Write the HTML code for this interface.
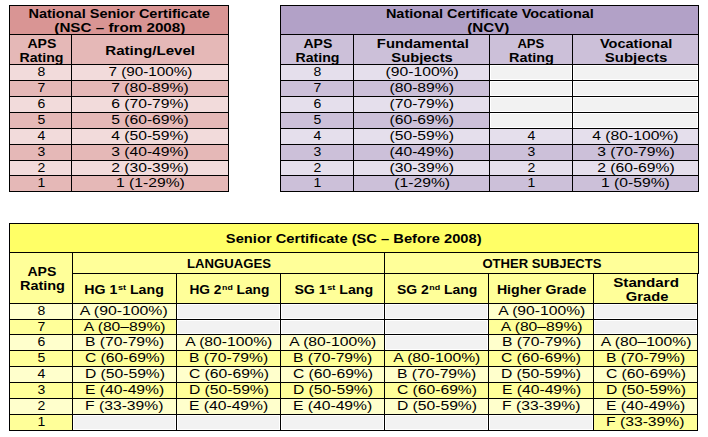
<!DOCTYPE html>
<html><head><meta charset="utf-8"><style>
html,body{margin:0;padding:0;background:#fff;width:708px;height:437px;overflow:hidden;position:relative}
.c{position:absolute;box-sizing:border-box;border:1px solid #000}
.g{position:absolute;background:#F2F2F2}
.t{position:absolute;width:400px;text-align:center;white-space:nowrap;font-family:"Liberation Sans",sans-serif;font-size:12.5px;line-height:20px;color:#000}
.t span{display:inline-block;transform-origin:50% 50%}
.b{font-weight:bold}
.sp{font-size:8px;position:relative;top:-4px;margin-left:0.5px}
</style></head><body>
<div class="c" style="left:9px;top:5px;width:220px;height:30px;background:#D99594"></div>
<div class="c" style="left:9px;top:34px;width:63px;height:31px;background:#E5B8B7"></div>
<div class="c" style="left:71px;top:34px;width:158px;height:31px;background:#E5B8B7"></div>
<div class="c" style="left:9px;top:64px;width:63px;height:17px;background:#F2DBDB"></div>
<div class="c" style="left:71px;top:64px;width:158px;height:17px;background:#F2DBDB"></div>
<div class="c" style="left:9px;top:80px;width:63px;height:17px;background:#E5B8B7"></div>
<div class="c" style="left:71px;top:80px;width:158px;height:17px;background:#E5B8B7"></div>
<div class="c" style="left:9px;top:96px;width:63px;height:17px;background:#F2DBDB"></div>
<div class="c" style="left:71px;top:96px;width:158px;height:17px;background:#F2DBDB"></div>
<div class="c" style="left:9px;top:112px;width:63px;height:17px;background:#E5B8B7"></div>
<div class="c" style="left:71px;top:112px;width:158px;height:17px;background:#E5B8B7"></div>
<div class="c" style="left:9px;top:128px;width:63px;height:17px;background:#F2DBDB"></div>
<div class="c" style="left:71px;top:128px;width:158px;height:17px;background:#F2DBDB"></div>
<div class="c" style="left:9px;top:144px;width:63px;height:17px;background:#E5B8B7"></div>
<div class="c" style="left:71px;top:144px;width:158px;height:17px;background:#E5B8B7"></div>
<div class="c" style="left:9px;top:160px;width:63px;height:16px;background:#F2DBDB"></div>
<div class="c" style="left:71px;top:160px;width:158px;height:16px;background:#F2DBDB"></div>
<div class="c" style="left:9px;top:175px;width:63px;height:17px;background:#E5B8B7"></div>
<div class="c" style="left:71px;top:175px;width:158px;height:17px;background:#E5B8B7"></div>
<div class="c" style="left:280px;top:5px;width:419px;height:30px;background:#B2A1C7"></div>
<div class="c" style="left:280px;top:34px;width:74px;height:31px;background:#CCC0D9"></div>
<div class="c" style="left:353px;top:34px;width:137px;height:31px;background:#CCC0D9"></div>
<div class="c" style="left:489px;top:34px;width:84px;height:31px;background:#CCC0D9"></div>
<div class="c" style="left:572px;top:34px;width:127px;height:31px;background:#CCC0D9"></div>
<div class="c" style="left:280px;top:64px;width:74px;height:17px;background:#E5DFEC"></div>
<div class="c" style="left:353px;top:64px;width:137px;height:17px;background:#E5DFEC"></div>
<div class="c" style="left:489px;top:64px;width:84px;height:17px;background:#FFFFFF"></div>
<div class="g" style="left:491px;top:66px;width:80px;height:13px"></div>
<div class="c" style="left:572px;top:64px;width:127px;height:17px;background:#FFFFFF"></div>
<div class="g" style="left:574px;top:66px;width:123px;height:13px"></div>
<div class="c" style="left:280px;top:80px;width:74px;height:17px;background:#CCC0D9"></div>
<div class="c" style="left:353px;top:80px;width:137px;height:17px;background:#CCC0D9"></div>
<div class="c" style="left:489px;top:80px;width:84px;height:17px;background:#FFFFFF"></div>
<div class="g" style="left:491px;top:82px;width:80px;height:13px"></div>
<div class="c" style="left:572px;top:80px;width:127px;height:17px;background:#FFFFFF"></div>
<div class="g" style="left:574px;top:82px;width:123px;height:13px"></div>
<div class="c" style="left:280px;top:96px;width:74px;height:17px;background:#E5DFEC"></div>
<div class="c" style="left:353px;top:96px;width:137px;height:17px;background:#E5DFEC"></div>
<div class="c" style="left:489px;top:96px;width:84px;height:17px;background:#FFFFFF"></div>
<div class="g" style="left:491px;top:98px;width:80px;height:13px"></div>
<div class="c" style="left:572px;top:96px;width:127px;height:17px;background:#FFFFFF"></div>
<div class="g" style="left:574px;top:98px;width:123px;height:13px"></div>
<div class="c" style="left:280px;top:112px;width:74px;height:17px;background:#CCC0D9"></div>
<div class="c" style="left:353px;top:112px;width:137px;height:17px;background:#CCC0D9"></div>
<div class="c" style="left:489px;top:112px;width:84px;height:17px;background:#FFFFFF"></div>
<div class="g" style="left:491px;top:114px;width:80px;height:13px"></div>
<div class="c" style="left:572px;top:112px;width:127px;height:17px;background:#FFFFFF"></div>
<div class="g" style="left:574px;top:114px;width:123px;height:13px"></div>
<div class="c" style="left:280px;top:128px;width:74px;height:17px;background:#E5DFEC"></div>
<div class="c" style="left:353px;top:128px;width:137px;height:17px;background:#E5DFEC"></div>
<div class="c" style="left:489px;top:128px;width:84px;height:17px;background:#E5DFEC"></div>
<div class="c" style="left:572px;top:128px;width:127px;height:17px;background:#E5DFEC"></div>
<div class="c" style="left:280px;top:144px;width:74px;height:17px;background:#CCC0D9"></div>
<div class="c" style="left:353px;top:144px;width:137px;height:17px;background:#CCC0D9"></div>
<div class="c" style="left:489px;top:144px;width:84px;height:17px;background:#CCC0D9"></div>
<div class="c" style="left:572px;top:144px;width:127px;height:17px;background:#CCC0D9"></div>
<div class="c" style="left:280px;top:160px;width:74px;height:16px;background:#E5DFEC"></div>
<div class="c" style="left:353px;top:160px;width:137px;height:16px;background:#E5DFEC"></div>
<div class="c" style="left:489px;top:160px;width:84px;height:16px;background:#E5DFEC"></div>
<div class="c" style="left:572px;top:160px;width:127px;height:16px;background:#E5DFEC"></div>
<div class="c" style="left:280px;top:175px;width:74px;height:17px;background:#CCC0D9"></div>
<div class="c" style="left:353px;top:175px;width:137px;height:17px;background:#CCC0D9"></div>
<div class="c" style="left:489px;top:175px;width:84px;height:17px;background:#CCC0D9"></div>
<div class="c" style="left:572px;top:175px;width:127px;height:17px;background:#CCC0D9"></div>
<div class="c" style="left:9px;top:223px;width:690px;height:30px;background:#FFFF66"></div>
<div class="c" style="left:9px;top:252px;width:64px;height:52px;background:#FFFF99"></div>
<div class="c" style="left:72px;top:252px;width:313px;height:22px;background:#FFFF99"></div>
<div class="c" style="left:384px;top:252px;width:315px;height:22px;background:#FFFF99"></div>
<div class="c" style="left:72px;top:273px;width:105px;height:31px;background:#FFFF99"></div>
<div class="c" style="left:176px;top:273px;width:105px;height:31px;background:#FFFF99"></div>
<div class="c" style="left:280px;top:273px;width:105px;height:31px;background:#FFFF99"></div>
<div class="c" style="left:384px;top:273px;width:105px;height:31px;background:#FFFF99"></div>
<div class="c" style="left:488px;top:273px;width:106px;height:31px;background:#FFFF99"></div>
<div class="c" style="left:593px;top:273px;width:105px;height:31px;background:#FFFF99"></div>
<div class="c" style="left:9px;top:303px;width:64px;height:17px;background:#FFFFCC"></div>
<div class="c" style="left:72px;top:303px;width:105px;height:17px;background:#FFFFCC"></div>
<div class="c" style="left:176px;top:303px;width:105px;height:17px;background:#FFFFFF"></div>
<div class="g" style="left:178px;top:305px;width:101px;height:13px"></div>
<div class="c" style="left:280px;top:303px;width:105px;height:17px;background:#FFFFFF"></div>
<div class="g" style="left:282px;top:305px;width:101px;height:13px"></div>
<div class="c" style="left:384px;top:303px;width:105px;height:17px;background:#FFFFFF"></div>
<div class="g" style="left:386px;top:305px;width:101px;height:13px"></div>
<div class="c" style="left:488px;top:303px;width:106px;height:17px;background:#FFFFCC"></div>
<div class="c" style="left:593px;top:303px;width:105px;height:17px;background:#FFFFFF"></div>
<div class="g" style="left:595px;top:305px;width:101px;height:13px"></div>
<div class="c" style="left:9px;top:319px;width:64px;height:16px;background:#FFFF99"></div>
<div class="c" style="left:72px;top:319px;width:105px;height:16px;background:#FFFF99"></div>
<div class="c" style="left:176px;top:319px;width:105px;height:16px;background:#FFFFFF"></div>
<div class="g" style="left:178px;top:321px;width:101px;height:12px"></div>
<div class="c" style="left:280px;top:319px;width:105px;height:16px;background:#FFFFFF"></div>
<div class="g" style="left:282px;top:321px;width:101px;height:12px"></div>
<div class="c" style="left:384px;top:319px;width:105px;height:16px;background:#FFFFFF"></div>
<div class="g" style="left:386px;top:321px;width:101px;height:12px"></div>
<div class="c" style="left:488px;top:319px;width:106px;height:16px;background:#FFFF99"></div>
<div class="c" style="left:593px;top:319px;width:105px;height:16px;background:#FFFFFF"></div>
<div class="g" style="left:595px;top:321px;width:101px;height:12px"></div>
<div class="c" style="left:9px;top:334px;width:64px;height:17px;background:#FFFFCC"></div>
<div class="c" style="left:72px;top:334px;width:105px;height:17px;background:#FFFFCC"></div>
<div class="c" style="left:176px;top:334px;width:105px;height:17px;background:#FFFFCC"></div>
<div class="c" style="left:280px;top:334px;width:105px;height:17px;background:#FFFFCC"></div>
<div class="c" style="left:384px;top:334px;width:105px;height:17px;background:#FFFFFF"></div>
<div class="g" style="left:386px;top:336px;width:101px;height:13px"></div>
<div class="c" style="left:488px;top:334px;width:106px;height:17px;background:#FFFFCC"></div>
<div class="c" style="left:593px;top:334px;width:105px;height:17px;background:#FFFFCC"></div>
<div class="c" style="left:9px;top:350px;width:64px;height:17px;background:#FFFF99"></div>
<div class="c" style="left:72px;top:350px;width:105px;height:17px;background:#FFFF99"></div>
<div class="c" style="left:176px;top:350px;width:105px;height:17px;background:#FFFF99"></div>
<div class="c" style="left:280px;top:350px;width:105px;height:17px;background:#FFFF99"></div>
<div class="c" style="left:384px;top:350px;width:105px;height:17px;background:#FFFF99"></div>
<div class="c" style="left:488px;top:350px;width:106px;height:17px;background:#FFFF99"></div>
<div class="c" style="left:593px;top:350px;width:105px;height:17px;background:#FFFF99"></div>
<div class="c" style="left:9px;top:366px;width:64px;height:17px;background:#FFFFCC"></div>
<div class="c" style="left:72px;top:366px;width:105px;height:17px;background:#FFFFCC"></div>
<div class="c" style="left:176px;top:366px;width:105px;height:17px;background:#FFFFCC"></div>
<div class="c" style="left:280px;top:366px;width:105px;height:17px;background:#FFFFCC"></div>
<div class="c" style="left:384px;top:366px;width:105px;height:17px;background:#FFFFCC"></div>
<div class="c" style="left:488px;top:366px;width:106px;height:17px;background:#FFFFCC"></div>
<div class="c" style="left:593px;top:366px;width:105px;height:17px;background:#FFFFCC"></div>
<div class="c" style="left:9px;top:382px;width:64px;height:17px;background:#FFFF99"></div>
<div class="c" style="left:72px;top:382px;width:105px;height:17px;background:#FFFF99"></div>
<div class="c" style="left:176px;top:382px;width:105px;height:17px;background:#FFFF99"></div>
<div class="c" style="left:280px;top:382px;width:105px;height:17px;background:#FFFF99"></div>
<div class="c" style="left:384px;top:382px;width:105px;height:17px;background:#FFFF99"></div>
<div class="c" style="left:488px;top:382px;width:106px;height:17px;background:#FFFF99"></div>
<div class="c" style="left:593px;top:382px;width:105px;height:17px;background:#FFFF99"></div>
<div class="c" style="left:9px;top:398px;width:64px;height:17px;background:#FFFFCC"></div>
<div class="c" style="left:72px;top:398px;width:105px;height:17px;background:#FFFFCC"></div>
<div class="c" style="left:176px;top:398px;width:105px;height:17px;background:#FFFFCC"></div>
<div class="c" style="left:280px;top:398px;width:105px;height:17px;background:#FFFFCC"></div>
<div class="c" style="left:384px;top:398px;width:105px;height:17px;background:#FFFFCC"></div>
<div class="c" style="left:488px;top:398px;width:106px;height:17px;background:#FFFFCC"></div>
<div class="c" style="left:593px;top:398px;width:105px;height:17px;background:#FFFFCC"></div>
<div class="c" style="left:9px;top:414px;width:64px;height:17px;background:#FFFF99"></div>
<div class="c" style="left:72px;top:414px;width:105px;height:17px;background:#FFFFFF"></div>
<div class="g" style="left:74px;top:416px;width:101px;height:13px"></div>
<div class="c" style="left:176px;top:414px;width:105px;height:17px;background:#FFFFFF"></div>
<div class="g" style="left:178px;top:416px;width:101px;height:13px"></div>
<div class="c" style="left:280px;top:414px;width:105px;height:17px;background:#FFFFFF"></div>
<div class="g" style="left:282px;top:416px;width:101px;height:13px"></div>
<div class="c" style="left:384px;top:414px;width:105px;height:17px;background:#FFFFFF"></div>
<div class="g" style="left:386px;top:416px;width:101px;height:13px"></div>
<div class="c" style="left:488px;top:414px;width:106px;height:17px;background:#FFFFFF"></div>
<div class="g" style="left:490px;top:416px;width:102px;height:13px"></div>
<div class="c" style="left:593px;top:414px;width:105px;height:17px;background:#FFFF99"></div>
<div class="t b" style="left:-80.58px;top:4px"><span style="transform:scaleX(1.161)">National Senior Certificate</span></div>
<div class="t b" style="left:-80.50px;top:18px"><span style="transform:scaleX(1.217)">(NSC – from 2008)</span></div>
<div class="t b" style="left:-158.50px;top:34px"><span style="transform:scaleX(1.125)">APS</span></div>
<div class="t b" style="left:-158.50px;top:48px"><span style="transform:scaleX(1.132)">Rating</span></div>
<div class="t b" style="left:-49.50px;top:41px"><span style="transform:scaleX(1.208)">Rating/Level</span></div>
<div class="t" style="left:-158.75px;top:62px"><span style="transform:scaleX(1.120)">8</span></div>
<div class="t" style="left:-49.50px;top:62px"><span style="transform:scaleX(1.221)">7 (90-100%)</span></div>
<div class="t" style="left:-158.75px;top:78px"><span style="transform:scaleX(1.120)">7</span></div>
<div class="t" style="left:-49.75px;top:78px"><span style="transform:scaleX(1.253)">7 (80-89%)</span></div>
<div class="t" style="left:-158.75px;top:94px"><span style="transform:scaleX(1.120)">6</span></div>
<div class="t" style="left:-49.75px;top:94px"><span style="transform:scaleX(1.253)">6 (70-79%)</span></div>
<div class="t" style="left:-158.75px;top:110px"><span style="transform:scaleX(1.120)">5</span></div>
<div class="t" style="left:-49.75px;top:110px"><span style="transform:scaleX(1.253)">5 (60-69%)</span></div>
<div class="t" style="left:-158.75px;top:126px"><span style="transform:scaleX(1.120)">4</span></div>
<div class="t" style="left:-49.75px;top:126px"><span style="transform:scaleX(1.253)">4 (50-59%)</span></div>
<div class="t" style="left:-158.75px;top:142px"><span style="transform:scaleX(1.120)">3</span></div>
<div class="t" style="left:-49.75px;top:142px"><span style="transform:scaleX(1.253)">3 (40-49%)</span></div>
<div class="t" style="left:-158.75px;top:158px"><span style="transform:scaleX(1.120)">2</span></div>
<div class="t" style="left:-49.75px;top:158px"><span style="transform:scaleX(1.253)">2 (30-39%)</span></div>
<div class="t" style="left:-158.75px;top:173px"><span style="transform:scaleX(1.120)">1</span></div>
<div class="t" style="left:-49.75px;top:173px"><span style="transform:scaleX(1.253)">1 (1-29%)</span></div>
<div class="t b" style="left:290.00px;top:4px"><span style="transform:scaleX(1.157)">National Certificate Vocational</span></div>
<div class="t b" style="left:288.39px;top:18px"><span style="transform:scaleX(1.212)">(NCV)</span></div>
<div class="t b" style="left:117.50px;top:34px"><span style="transform:scaleX(1.125)">APS</span></div>
<div class="t b" style="left:117.50px;top:48px"><span style="transform:scaleX(1.132)">Rating</span></div>
<div class="t b" style="left:223.00px;top:34px"><span style="transform:scaleX(1.184)">Fundamental</span></div>
<div class="t b" style="left:222.50px;top:48px"><span style="transform:scaleX(1.180)">Subjects</span></div>
<div class="t b" style="left:331.25px;top:34px"><span style="transform:scaleX(1.045)">APS</span></div>
<div class="t b" style="left:331.25px;top:48px"><span style="transform:scaleX(1.155)">Rating</span></div>
<div class="t b" style="left:436.08px;top:34px"><span style="transform:scaleX(1.164)">Vocational</span></div>
<div class="t b" style="left:436.00px;top:48px"><span style="transform:scaleX(1.200)">Subjects</span></div>
<div class="t" style="left:117.75px;top:62px"><span style="transform:scaleX(1.120)">8</span></div>
<div class="t" style="left:221.75px;top:62px"><span style="transform:scaleX(1.253)">(90-100%)</span></div>
<div class="t" style="left:117.75px;top:78px"><span style="transform:scaleX(1.120)">7</span></div>
<div class="t" style="left:221.75px;top:78px"><span style="transform:scaleX(1.253)">(80-89%)</span></div>
<div class="t" style="left:117.75px;top:94px"><span style="transform:scaleX(1.120)">6</span></div>
<div class="t" style="left:221.75px;top:94px"><span style="transform:scaleX(1.253)">(70-79%)</span></div>
<div class="t" style="left:117.75px;top:110px"><span style="transform:scaleX(1.120)">5</span></div>
<div class="t" style="left:221.75px;top:110px"><span style="transform:scaleX(1.253)">(60-69%)</span></div>
<div class="t" style="left:117.75px;top:126px"><span style="transform:scaleX(1.120)">4</span></div>
<div class="t" style="left:221.75px;top:126px"><span style="transform:scaleX(1.253)">(50-59%)</span></div>
<div class="t" style="left:331.75px;top:126px"><span style="transform:scaleX(1.120)">4</span></div>
<div class="t" style="left:435.75px;top:126px"><span style="transform:scaleX(1.253)">4 (80-100%)</span></div>
<div class="t" style="left:117.75px;top:142px"><span style="transform:scaleX(1.120)">3</span></div>
<div class="t" style="left:221.75px;top:142px"><span style="transform:scaleX(1.253)">(40-49%)</span></div>
<div class="t" style="left:331.75px;top:142px"><span style="transform:scaleX(1.120)">3</span></div>
<div class="t" style="left:435.75px;top:142px"><span style="transform:scaleX(1.253)">3 (70-79%)</span></div>
<div class="t" style="left:117.75px;top:158px"><span style="transform:scaleX(1.120)">2</span></div>
<div class="t" style="left:221.75px;top:158px"><span style="transform:scaleX(1.253)">(30-39%)</span></div>
<div class="t" style="left:331.75px;top:158px"><span style="transform:scaleX(1.120)">2</span></div>
<div class="t" style="left:435.75px;top:158px"><span style="transform:scaleX(1.253)">2 (60-69%)</span></div>
<div class="t" style="left:117.75px;top:173px"><span style="transform:scaleX(1.120)">1</span></div>
<div class="t" style="left:221.75px;top:173px"><span style="transform:scaleX(1.253)">(1-29%)</span></div>
<div class="t" style="left:331.75px;top:173px"><span style="transform:scaleX(1.120)">1</span></div>
<div class="t" style="left:435.75px;top:173px"><span style="transform:scaleX(1.253)">1 (0-59%)</span></div>
<div class="t b" style="left:154.00px;top:229px"><span style="transform:scaleX(1.176)">Senior Certificate (SC – Before 2008)</span></div>
<div class="t b" style="left:-158.50px;top:262px"><span style="transform:scaleX(1.125)">APS</span></div>
<div class="t b" style="left:-158.00px;top:276px"><span style="transform:scaleX(1.158)">Rating</span></div>
<div class="t b" style="left:29.00px;top:254px"><span style="transform:scaleX(1.051)">LANGUAGES</span></div>
<div class="t b" style="left:341.50px;top:254px"><span style="transform:scaleX(1.045)">OTHER SUBJECTS</span></div>
<div class="t b" style="left:-75.50px;top:280px"><span style="transform:scaleX(1.132)">HG 1<span class=sp>st</span> Lang</span></div>
<div class="t b" style="left:29.50px;top:280px"><span style="transform:scaleX(1.097)">HG 2<span class=sp>nd</span> Lang</span></div>
<div class="t b" style="left:133.50px;top:280px"><span style="transform:scaleX(1.132)">SG 1<span class=sp>st</span> Lang</span></div>
<div class="t b" style="left:237.00px;top:280px"><span style="transform:scaleX(1.114)">SG 2<span class=sp>nd</span> Lang</span></div>
<div class="t b" style="left:342.00px;top:280px"><span style="transform:scaleX(1.128)">Higher Grade</span></div>
<div class="t b" style="left:446.50px;top:273px"><span style="transform:scaleX(1.212)">Standard</span></div>
<div class="t b" style="left:447.00px;top:287px"><span style="transform:scaleX(1.176)">Grade</span></div>
<div class="t" style="left:-158.25px;top:301px"><span style="transform:scaleX(1.120)">8</span></div>
<div class="t" style="left:-76.00px;top:301px"><span style="transform:scaleX(1.265)">A (90-100%)</span></div>
<div class="t" style="left:341.25px;top:301px"><span style="transform:scaleX(1.253)">A (90-100%)</span></div>
<div class="t" style="left:-158.25px;top:317px"><span style="transform:scaleX(1.120)">7</span></div>
<div class="t" style="left:-75.25px;top:317px"><span style="transform:scaleX(1.253)">A (80–89%)</span></div>
<div class="t" style="left:341.25px;top:317px"><span style="transform:scaleX(1.253)">A (80–89%)</span></div>
<div class="t" style="left:-158.25px;top:332px"><span style="transform:scaleX(1.120)">6</span></div>
<div class="t" style="left:-75.25px;top:332px"><span style="transform:scaleX(1.253)">B (70-79%)</span></div>
<div class="t" style="left:28.75px;top:332px"><span style="transform:scaleX(1.253)">A (80-100%)</span></div>
<div class="t" style="left:132.75px;top:332px"><span style="transform:scaleX(1.253)">A (80-100%)</span></div>
<div class="t" style="left:341.25px;top:332px"><span style="transform:scaleX(1.253)">B (70-79%)</span></div>
<div class="t" style="left:445.75px;top:332px"><span style="transform:scaleX(1.253)">A (80–100%)</span></div>
<div class="t" style="left:-158.25px;top:348px"><span style="transform:scaleX(1.120)">5</span></div>
<div class="t" style="left:-75.25px;top:348px"><span style="transform:scaleX(1.253)">C (60-69%)</span></div>
<div class="t" style="left:28.75px;top:348px"><span style="transform:scaleX(1.253)">B (70-79%)</span></div>
<div class="t" style="left:132.75px;top:348px"><span style="transform:scaleX(1.253)">B (70-79%)</span></div>
<div class="t" style="left:236.75px;top:348px"><span style="transform:scaleX(1.253)">A (80-100%)</span></div>
<div class="t" style="left:341.25px;top:348px"><span style="transform:scaleX(1.253)">C (60-69%)</span></div>
<div class="t" style="left:445.75px;top:348px"><span style="transform:scaleX(1.253)">B (70-79%)</span></div>
<div class="t" style="left:-158.25px;top:364px"><span style="transform:scaleX(1.120)">4</span></div>
<div class="t" style="left:-75.25px;top:364px"><span style="transform:scaleX(1.253)">D (50-59%)</span></div>
<div class="t" style="left:28.75px;top:364px"><span style="transform:scaleX(1.253)">C (60-69%)</span></div>
<div class="t" style="left:132.75px;top:364px"><span style="transform:scaleX(1.253)">C (60-69%)</span></div>
<div class="t" style="left:236.75px;top:364px"><span style="transform:scaleX(1.253)">B (70-79%)</span></div>
<div class="t" style="left:341.25px;top:364px"><span style="transform:scaleX(1.253)">D (50-59%)</span></div>
<div class="t" style="left:445.75px;top:364px"><span style="transform:scaleX(1.253)">C (60-69%)</span></div>
<div class="t" style="left:-158.25px;top:380px"><span style="transform:scaleX(1.120)">3</span></div>
<div class="t" style="left:-75.25px;top:380px"><span style="transform:scaleX(1.253)">E (40-49%)</span></div>
<div class="t" style="left:28.75px;top:380px"><span style="transform:scaleX(1.253)">D (50-59%)</span></div>
<div class="t" style="left:132.75px;top:380px"><span style="transform:scaleX(1.253)">D (50-59%)</span></div>
<div class="t" style="left:236.75px;top:380px"><span style="transform:scaleX(1.253)">C (60-69%)</span></div>
<div class="t" style="left:341.25px;top:380px"><span style="transform:scaleX(1.253)">E (40-49%)</span></div>
<div class="t" style="left:445.75px;top:380px"><span style="transform:scaleX(1.253)">D (50-59%)</span></div>
<div class="t" style="left:-158.25px;top:396px"><span style="transform:scaleX(1.120)">2</span></div>
<div class="t" style="left:-75.25px;top:396px"><span style="transform:scaleX(1.253)">F (33-39%)</span></div>
<div class="t" style="left:28.75px;top:396px"><span style="transform:scaleX(1.253)">E (40-49%)</span></div>
<div class="t" style="left:132.75px;top:396px"><span style="transform:scaleX(1.253)">E (40-49%)</span></div>
<div class="t" style="left:236.75px;top:396px"><span style="transform:scaleX(1.253)">D (50-59%)</span></div>
<div class="t" style="left:341.25px;top:396px"><span style="transform:scaleX(1.253)">F (33-39%)</span></div>
<div class="t" style="left:445.75px;top:396px"><span style="transform:scaleX(1.253)">E (40-49%)</span></div>
<div class="t" style="left:-158.25px;top:412px"><span style="transform:scaleX(1.120)">1</span></div>
<div class="t" style="left:445.75px;top:412px"><span style="transform:scaleX(1.253)">F (33-39%)</span></div>
</body></html>
